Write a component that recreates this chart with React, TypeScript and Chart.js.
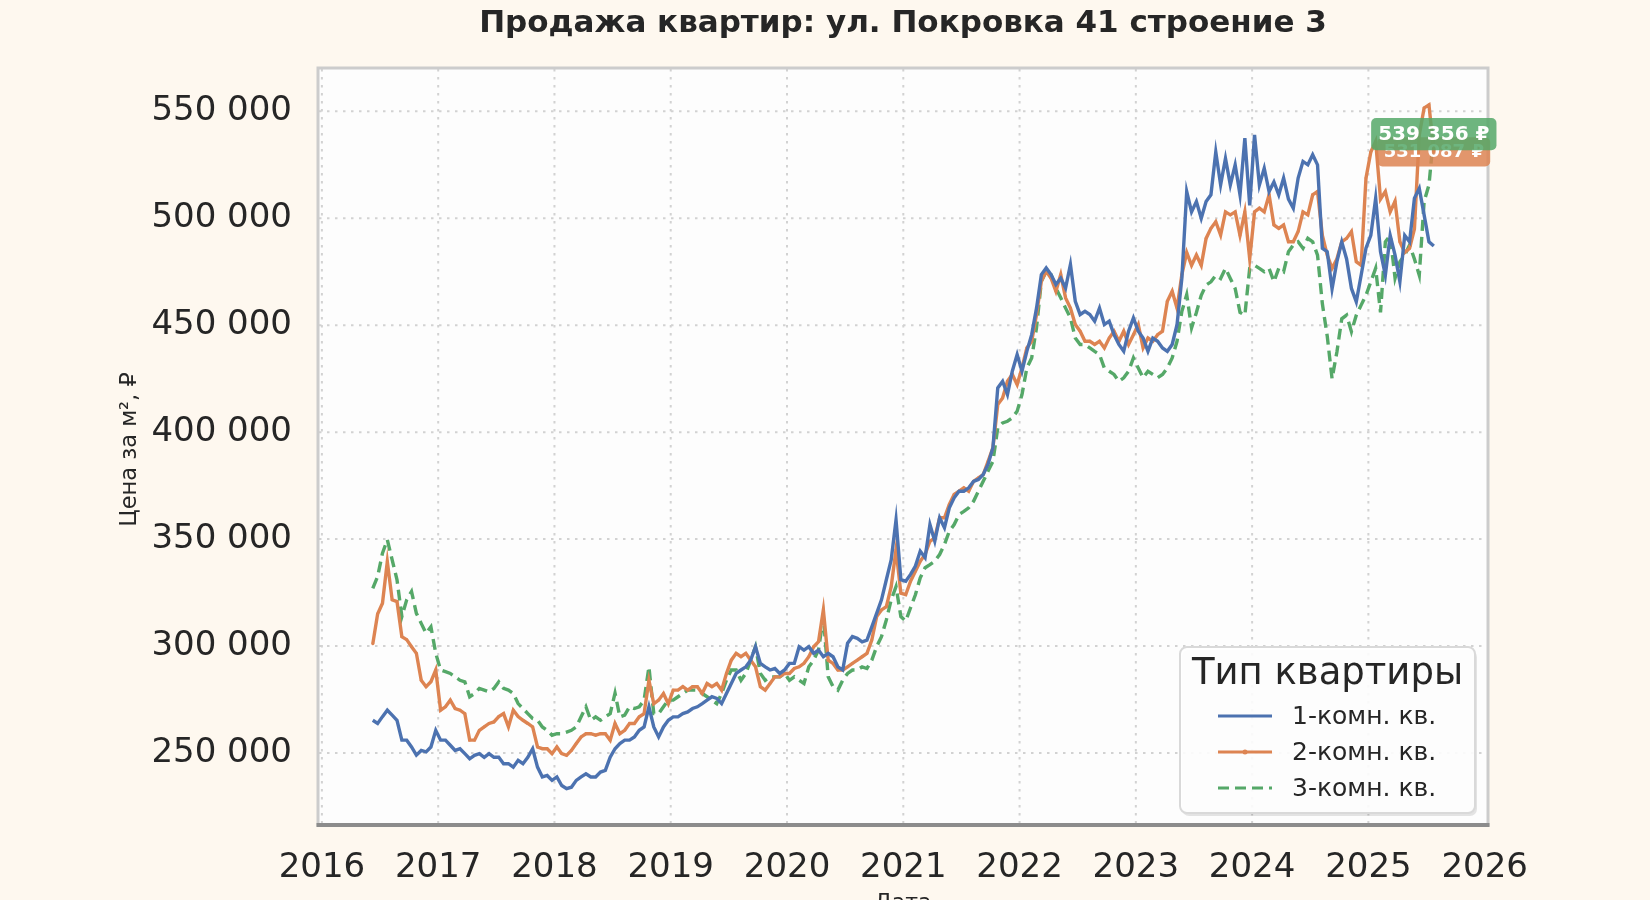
import { useEffect, useRef } from "react"
import { Chart, registerables } from "chart.js"

Chart.register(...registerables)

// half-monthly asking price per m², starting with the first half of June 2016
const FIRST_YEAR = 2016
const FIRST_HALF_MONTH = 10

const oneRoom = [
  265300, 263800, 267000, 270000, 267700, 265300, 256000, 256000, 252800, 249000,
  251200, 250500, 252800, 260600, 256000, 256000, 253600, 251200, 252000, 249700,
  247300, 248900, 249700, 248000, 249700, 248000, 248000, 245000, 245000, 243400,
  246600, 245000, 248000, 252000, 243400, 238800, 239500, 237200, 238800, 234800,
  233300, 234000, 237200, 238800, 240300, 238800, 238800, 241100, 241900, 248000,
  252000, 254400, 256000, 256000, 257500, 260600, 262200, 271600, 262200, 257500,
  262200, 265300, 266900, 266900, 268400, 269200, 270800, 271600, 273100, 274700,
  276300, 275500, 273100, 277800, 282500, 287200, 288800, 290300, 293400, 299700,
  291900, 290300, 288800, 289500, 287200, 288800, 291900, 291900, 299700, 298100,
  299700, 296600, 298100, 295000, 296600, 295000, 290300, 288800, 301300, 304400,
  303600, 302000, 302800, 309000, 315300, 321600, 331000, 340300, 359000, 331000,
  330300, 333500, 337400, 344400, 341300, 356800, 349000, 360000, 355300, 364600,
  369300, 372400, 372400, 374000, 377000, 377900, 380200, 385000, 392700, 420700,
  423800, 417600, 428500, 436300, 428500, 437800, 445600, 458000, 473700, 476800,
  473700, 469000, 472000, 467400, 478400, 461200, 455000, 456500, 455000, 451900,
  458000, 450300, 451900, 445600, 441000, 437800, 447200, 453400, 447200, 444000,
  437800, 444000, 442500, 439400, 437800, 441000, 450300, 472000, 512500, 503000,
  507800, 500000, 507800, 511000, 531000, 515600, 528000, 515600, 525000, 511000,
  537500, 506000, 539000, 515600, 523400, 512500, 517000, 511000, 518800, 509000,
  504700, 518800, 526600, 525000, 529700, 525000, 486000, 484400, 467000, 479700,
  489000, 481000, 467200, 461000, 473400, 486000, 492000, 509400, 484400, 473400,
  492000, 482800, 470300, 492000, 489000, 509400, 514000, 501600, 489000, 487000,
]

const twoRoom = [
  301000, 315000, 320000, 339500, 321600, 320800, 304400, 303000, 299700, 296600,
  284000, 281000, 283300, 288800, 270000, 271600, 274700, 270800, 270000, 268400,
  256000, 256000, 260600, 262200, 263800, 264500, 267000, 268400, 262200, 270000,
  267000, 265300, 263800, 262200, 252800, 252000, 252000, 249700, 252800, 249700,
  248900, 251200, 254400, 257500, 259000, 259000, 258300, 259000, 259000, 256000,
  263800, 259000, 260600, 263800, 263800, 266900, 268400, 284000, 273000, 274700,
  277800, 273000, 279400, 279400, 281000, 279400, 281000, 281000, 277800, 282500,
  281000, 282500, 279400, 287200, 293400, 296600, 295000, 296600, 293400, 290300,
  281000, 279400, 282500, 285600, 285600, 287200, 287200, 289500, 290300, 291900,
  295000, 299700, 302000, 316900, 293400, 291900, 288800, 288800, 290300, 291900,
  293400, 295000, 296600, 302800, 313800, 316900, 318400, 327800, 345000, 324700,
  324000, 330300, 335000, 339700, 342800, 349000, 350600, 360000, 360000, 366200,
  370900, 372400, 374000, 372400, 377000, 378600, 380200, 386400, 392700, 412900,
  416000, 423800, 427000, 422300, 430000, 439400, 442500, 455000, 470600, 475200,
  472000, 465900, 473700, 462800, 458000, 450300, 447200, 442500, 442500, 441000,
  442500, 439400, 444000, 447200, 442500, 447200, 441000, 445600, 450300, 439400,
  444000, 442500, 445600, 447200, 461200, 465900, 458000, 473700, 484000, 478000,
  482800, 478000, 490600, 495300, 498400, 492200, 503000, 501600, 503000, 492000,
  503000, 481000, 503000, 504700, 503000, 511000, 496900, 495300, 496900, 489000,
  489000, 493800, 503000, 501600, 511000, 512500, 492000, 482800, 476600, 481000,
  489000, 490600, 493800, 479700, 478000, 518800, 531000, 536000, 509000, 512500,
  503000, 508000, 489000, 484000, 486000, 495000, 539000, 551600, 553000, 531087,
]

const threeRoom = [
  327000, 332500, 343400, 349700, 340300, 331000, 313800, 321600, 325500, 315300,
  310600, 306000, 309000, 296600, 288800, 288000, 287200, 285600, 284000, 283300,
  276300, 277800, 280200, 279400, 278600, 280200, 283300, 280200, 279400, 277800,
  273100, 270800, 268400, 266100, 265300, 262200, 260600, 258300, 259000, 259000,
  259800, 260600, 262200, 266900, 271600, 265300, 266900, 265300, 266900, 268400,
  278000, 266900, 267700, 271600, 270800, 271600, 274700, 290300, 268400, 268400,
  271600, 274700, 274700, 276300, 277800, 279400, 279400, 279400, 277800, 276300,
  274700, 273100, 277800, 284000, 288800, 288800, 284000, 287200, 293400, 299700,
  287200, 284000, 285600, 285600, 285600, 287200, 284000, 285600, 284000, 282500,
  290300, 293400, 298100, 313800, 285600, 281000, 279400, 284000, 287200, 288800,
  288800, 290300, 289500, 293400, 299700, 304400, 312200, 321600, 327800, 313800,
  311700, 317900, 324000, 331900, 336600, 338100, 339700, 342800, 347500, 353700,
  356800, 361500, 363000, 364600, 367700, 372400, 377000, 381800, 386400, 402000,
  404300, 405100, 406700, 409800, 417600, 430000, 434700, 448800, 470600, 475200,
  473700, 467400, 462800, 458000, 453400, 444000, 441000, 441000, 439400, 437800,
  436300, 430000, 428500, 427000, 423800, 425400, 428500, 434700, 430000, 425400,
  428500, 427000, 425400, 427000, 430000, 434700, 442500, 456500, 464300, 448800,
  456000, 464000, 468800, 470300, 473400, 471900, 476600, 471900, 467200, 456000,
  454700, 476600, 478000, 476600, 475000, 476600, 470300, 476600, 475000, 484400,
  487500, 489000, 486000, 490600, 489000, 482800, 460000, 445000, 425000, 437500,
  453000, 454700, 447000, 454700, 459400, 464000, 470300, 476600, 456000, 489000,
  492000, 472000, 479700, 482800, 487500, 481000, 473400, 507800, 515600, 539356,
]

const seriesNames = ["1-комн. кв.", "2-комн. кв.", "3-комн. кв."]
const seriesColors = ["#4C72B0", "#DD8452", "#55A868"]
const yearTicks = [2016, 2017, 2018, 2019, 2020, 2021, 2022, 2023, 2024, 2025, 2026]
const priceTicks = [250000, 300000, 350000, 400000, 450000, 500000, 550000]

const FONT = "DejaVu Sans"
const TEXT = "#262626"

const fmt = (v: number) => String(Math.round(v)).replace(/\B(?=(\d{3})+(?!\d))/g, " ")
const indexToYear = (i: number) => FIRST_YEAR + (FIRST_HALF_MONTH + i + 0.5) / 24
const toPoints = (values: number[]) => values.map((y, i) => ({ x: indexToYear(i), y }))

function rgba(hex: string, a: number) {
  const n = parseInt(hex.slice(1), 16)
  return `rgba(${(n >> 16) & 255}, ${(n >> 8) & 255}, ${n & 255}, ${a})`
}

const decorPlugin = {
  id: "decor",
  beforeDraw(chart: any) {
    const { ctx, chartArea: a } = chart
    ctx.save()
    ctx.fillStyle = "#fdfdfd"
    ctx.fillRect(a.left, a.top, a.right - a.left, a.bottom - a.top)
    ctx.restore()
  },
  beforeDatasetsDraw(chart: any) {
    const { ctx, chartArea: a, scales } = chart
    ctx.save()
    ctx.strokeStyle = "#d2d2d2"
    ctx.lineWidth = 2
    ctx.setLineDash([2.5, 5.5])
    for (const year of yearTicks) {
      const px = scales.x.getPixelForValue(year)
      if (px > a.right - 3) continue
      ctx.beginPath()
      ctx.moveTo(px, a.top)
      ctx.lineTo(px, a.bottom)
      ctx.stroke()
    }
    for (const p of priceTicks) {
      const py = scales.y.getPixelForValue(p)
      ctx.beginPath()
      ctx.moveTo(a.left, py)
      ctx.lineTo(a.right, py)
      ctx.stroke()
    }
    ctx.restore()
  },
  afterDatasetsDraw(chart: any) {
    const { ctx, chartArea: a, scales } = chart
    ctx.save()
    // spines
    ctx.strokeStyle = "#cccccc"
    ctx.lineWidth = 3
    ctx.strokeRect(a.left - 1, a.top - 1, a.right - a.left + 2, a.bottom - a.top + 2)
    ctx.strokeStyle = "#8c8c8c"
    ctx.lineWidth = 4
    ctx.beginPath()
    ctx.moveTo(a.left - 2.5, a.bottom + 1)
    ctx.lineTo(a.right + 2.5, a.bottom + 1)
    ctx.stroke()

    // end value labels (2-комн. below, 3-комн. on top)
    const labels = [
      { values: twoRoom, color: seriesColors[1], size: 18 },
      { values: threeRoom, color: seriesColors[2], size: 20 },
    ]
    for (const l of labels) {
      const last = l.values.length - 1
      const px = scales.x.getPixelForValue(indexToYear(last))
      const py = scales.y.getPixelForValue(l.values[last])
      const text = `${fmt(l.values[last])} ₽`
      ctx.font = `bold ${l.size}px "${FONT}"`
      const w = ctx.measureText(text).width + l.size * 0.7
      const h = l.size * 1.62
      ctx.fillStyle = rgba(l.color, 0.85)
      ctx.beginPath()
      ctx.roundRect(px - w / 2, py - h / 2, w, h, 5)
      ctx.fill()
      ctx.fillStyle = "#ffffff"
      ctx.textAlign = "center"
      ctx.textBaseline = "middle"
      ctx.fillText(text, px, py + 1)
    }
    ctx.restore()
  },
  afterDraw(chart: any) {
    const { ctx, chartArea: a } = chart
    ctx.save()
    ctx.fillStyle = TEXT

    // title
    ctx.font = `bold 31px "${FONT}"`
    ctx.textAlign = "center"
    ctx.textBaseline = "alphabetic"
    ctx.fillText("Продажа квартир: ул. Покровка 41 строение 3", (a.left + a.right) / 2, 32)

    // axis titles
    ctx.font = `22px "${FONT}"`
    ctx.fillText("Дата", (a.left + a.right) / 2, 909)
    ctx.save()
    ctx.font = `22.5px "${FONT}"`
    ctx.translate(136, (a.top + a.bottom) / 2 + 3)
    ctx.rotate(-Math.PI / 2)
    ctx.fillText("Цена за м², ₽", 0, 0)
    ctx.restore()

    // legend
    const bw = 295
    const bh = 166
    const bx = a.right - 12 - bw
    const by = a.bottom - 11 - bh
    ctx.fillStyle = "rgba(0,0,0,0.10)"
    ctx.beginPath()
    ctx.roundRect(bx + 2, by + 3, bw, bh, 7)
    ctx.fill()
    ctx.fillStyle = "rgba(255,255,255,0.9)"
    ctx.strokeStyle = "#d9d9d9"
    ctx.lineWidth = 2
    ctx.beginPath()
    ctx.roundRect(bx, by, bw, bh, 7)
    ctx.fill()
    ctx.stroke()

    ctx.fillStyle = TEXT
    ctx.font = `37px "${FONT}"`
    ctx.textAlign = "center"
    ctx.textBaseline = "middle"
    ctx.fillText("Тип квартиры", bx + bw / 2, by + 27)

    ctx.font = `25px "${FONT}"`
    ctx.textAlign = "left"
    seriesNames.forEach((name, i) => {
      const ly = by + 69 + i * 36
      ctx.strokeStyle = seriesColors[i]
      ctx.lineWidth = 3
      ctx.setLineDash(i === 2 ? [11, 6] : [])
      ctx.beginPath()
      ctx.moveTo(bx + 38, ly)
      ctx.lineTo(bx + 92, ly)
      ctx.stroke()
      ctx.setLineDash([])
      if (i === 1) {
        ctx.fillStyle = seriesColors[i]
        ctx.beginPath()
        ctx.arc(bx + 65, ly, 2.5, 0, Math.PI * 2)
        ctx.fill()
      }
      ctx.fillStyle = TEXT
      ctx.fillText(name, bx + 112, ly + 1)
    })
    ctx.restore()
  },
}

export default function App() {
  const canvasRef = useRef<HTMLCanvasElement>(null)
  const chartRef = useRef<Chart | null>(null)

  useEffect(() => {
    if (!canvasRef.current) return
    const ctx = canvasRef.current.getContext("2d")
    if (!ctx) return

    const series = [oneRoom, twoRoom, threeRoom]

    chartRef.current = new Chart(ctx, {
      type: "line",
      data: {
        datasets: series.map((values, i) => ({
          label: seriesNames[i],
          data: toPoints(values),
          borderColor: seriesColors[i],
          backgroundColor: seriesColors[i],
          borderWidth: 3.4,
          borderDash: i === 2 ? [11, 6] : [],
          pointRadius: i === 1 ? 1.4 : 0,
          pointBorderWidth: 0,
          pointBackgroundColor: seriesColors[i],
          tension: 0,
          fill: false,
        })),
      },
      options: {
        responsive: false,
        devicePixelRatio: 1,
        animation: false,
        layout: { padding: { top: 69, right: 163, left: 0, bottom: 0 } },
        plugins: {
          legend: { display: false },
          title: { display: false },
          tooltip: { enabled: false },
        },
        scales: {
          x: {
            type: "linear",
            min: 2015.975,
            max: 2026.02,
            grid: { display: false, drawTicks: false },
            border: { display: false },
            ticks: {
              padding: 24,
              color: TEXT,
              font: { family: FONT, size: 34 },
              maxRotation: 0,
              autoSkip: false,
              callback: (v: any) => String(v),
            },
            afterBuildTicks: (s: any) => {
              s.ticks = yearTicks.map((value) => ({ value }))
            },
            afterFit: (s: any) => {
              s.height = 76
              s.paddingLeft = 0
              s.paddingRight = 0
            },
          },
          y: {
            min: 216800,
            max: 569800,
            grid: { display: false, drawTicks: false },
            border: { display: false },
            ticks: {
              padding: 27,
              color: TEXT,
              font: { family: FONT, size: 34 },
              autoSkip: false,
              callback: (v: any) => fmt(Number(v)),
            },
            afterBuildTicks: (s: any) => {
              s.ticks = priceTicks.map((value) => ({ value }))
            },
            afterFit: (s: any) => {
              s.width = 319
              s.paddingTop = 0
              s.paddingBottom = 0
            },
          },
        },
      },
      plugins: [decorPlugin],
    })

    return () => {
      chartRef.current?.destroy()
      chartRef.current = null
    }
  }, [])

  return (
    <div style={{ position: "fixed", left: 0, top: 0, width: 1650, height: 900, background: "#fef8ef" }}>
      <canvas ref={canvasRef} width={1650} height={900} style={{ width: 1650, height: 900 }} />
    </div>
  )
}
